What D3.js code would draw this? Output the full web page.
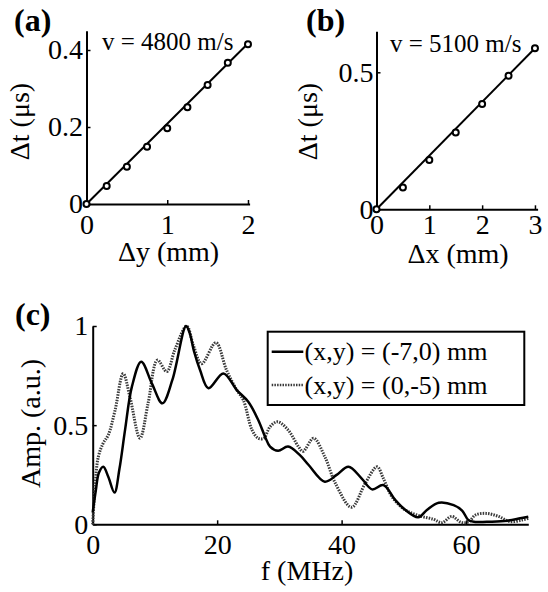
<!DOCTYPE html>
<html>
<head>
<meta charset="utf-8">
<script src="https://cdn.jsdelivr.net/npm/d3@7"></script>
<style>
  body { margin: 0; background: #fff; }
  svg, svg text { font-family: "Liberation Serif", Tinos, "Times New Roman", Times, "DejaVu Serif", serif !important; }
  .axis path, .axis line { stroke: #000; }
  .axis text { fill: #000; }
</style>
</head>
<body>
<div id="chart"></div>
<script>
// panel (a): delay vs dy
var dyA = [0, 0.25, 0.5, 0.75, 1, 1.25, 1.5, 1.75, 2];
var dtA = [0, 0.047, 0.097, 0.149, 0.197, 0.251, 0.309, 0.367, 0.415];
var fitA = [[0, 0], [2, 0.417]];

// panel (b): delay vs dx
var dxB = [0, 0.5, 1, 1.5, 2, 2.5, 3];
var dtB = [0, 0.08, 0.18, 0.28, 0.384, 0.487, 0.588];
var fitB = [[0, 0], [3, 0.588]];

// panel (c): spectra
var fSolid = [0, 0.5, 1.0, 1.7, 2.5, 3.5, 4.3, 5.2, 6.3, 7.8, 9.5, 11.2, 12.8, 15.0, 15.6, 16.3, 17.25, 18.6, 21.0, 23.15, 25.0, 26.6, 27.7, 28.5, 29.8, 31.4, 33.3, 34.7, 37.3, 39.2, 41.1, 43.2, 44.9, 46.7, 48.6, 50.2, 52.3, 53.7, 55.6, 58.0, 59.4, 60.4, 61.5, 63.9, 66.6, 68.7, 70];
var aSolid = [0.06, 0.17, 0.26, 0.29, 0.24, 0.16, 0.28, 0.476, 0.694, 0.82, 0.711, 0.61, 0.728, 1.0, 0.963, 0.87, 0.778, 0.686, 0.761, 0.677, 0.618, 0.526, 0.442, 0.392, 0.371, 0.392, 0.349, 0.299, 0.215, 0.249, 0.29, 0.232, 0.176, 0.198, 0.123, 0.073, 0.035, 0.072, 0.109, 0.097, 0.068, 0.02, 0.012, 0.013, 0.018, 0.03, 0.038];

var fDot = [0, 0.4, 0.9, 1.7, 2.5, 3.6, 4.9, 6.0, 7.6, 8.9, 10.4, 11.9, 13.2, 15.1, 16.2, 17.5, 19.8, 21.5, 23.15, 24.2, 25.6, 26.6, 27.5, 28.5, 29.7, 31.4, 33.1, 33.8, 35.5, 37.3, 39.0, 41.6, 43.8, 45.7, 46.7, 48.1, 50.2, 52.6, 54.8, 56.1, 57.7, 59.2, 60.4, 61.5, 63.2, 65.2, 67.1, 69.0, 70];
var aDot = [0.0, 0.2, 0.34, 0.41, 0.45, 0.576, 0.76, 0.64, 0.434, 0.61, 0.828, 0.77, 0.88, 1.0, 0.9, 0.81, 0.916, 0.778, 0.677, 0.627, 0.476, 0.434, 0.434, 0.492, 0.517, 0.476, 0.39, 0.368, 0.434, 0.341, 0.207, 0.086, 0.207, 0.29, 0.232, 0.139, 0.073, 0.042, 0.025, 0.008, 0.04, 0.01, 0.012, 0.047, 0.055, 0.04, 0.013, 0.022, 0.03];

var legendLabels = ["(x,y) = (-7,0) mm", "(x,y) = (0,-5) mm"];

var w = 548, h = 592;
var serif = '"Liberation Serif", Tinos, "Times New Roman", Times, "DejaVu Serif", serif';

var svg = d3.select("#chart")
            .append("svg")
            .attr("width", w)
            .attr("height", h)
            .attr("font-family", serif);

function styleAxis(g, fontSize) {
    g.attr("class", "axis").attr("font-family", serif);
    g.select(".domain").style("stroke-width", 2);
    g.selectAll(".tick line").style("stroke-width", 1.5);
    g.selectAll("text").style("font-size", fontSize + "px");
}

// small scatter + fit panel
function scatterPanel(opt) {
    var x = d3.scaleLinear().domain(opt.xDom).range(opt.xRange);
    var y = d3.scaleLinear().domain(opt.yDom).range(opt.yRange);

    var gx = svg.append("g")
        .attr("transform", "translate(0," + opt.yRange[0] + ")")
        .call(d3.axisBottom(x).tickValues(opt.xTicks).tickFormat(d3.format("d"))
            .tickSizeInner(-4).tickSizeOuter(0).tickPadding(opt.xPad));
    styleAxis(gx, 28);

    var gy = svg.append("g")
        .attr("transform", "translate(" + opt.xRange[0] + ",0)")
        .call(d3.axisLeft(y).tickValues(opt.yTicks).tickFormat(function (d) { return String(d); })
            .tickSizeInner(-4).tickSizeOuter(0).tickPadding(opt.yPad));
    styleAxis(gy, 28);

    svg.append("line")
        .attr("x1", x(opt.fit[0][0])).attr("y1", y(opt.fit[0][1]))
        .attr("x2", x(opt.fit[1][0])).attr("y2", y(opt.fit[1][1]))
        .style("stroke", "#000")
        .style("stroke-width", 2);

    svg.selectAll(null)
        .data(opt.xs)
        .enter()
        .append("circle")
        .attr("cx", function (d) { return x(d); })
        .attr("cy", function (d, i) { return y(opt.ys[i]); })
        .attr("r", 3)
        .style("fill", "#fff")
        .style("stroke", "#000")
        .style("stroke-width", 2);

    svg.append("text")
        .attr("x", opt.vPos[0]).attr("y", opt.vPos[1])
        .style("font-size", "25px")
        .text(opt.vText);

    // axis titles
    svg.append("text")
        .attr("x", opt.xTitle[0]).attr("y", opt.xTitle[1])
        .attr("text-anchor", "middle")
        .style("font-size", "28px")
        .text(opt.xLabel);

    svg.append("text")
        .attr("transform", "translate(" + opt.yTitle[0] + "," + opt.yTitle[1] + ") rotate(-90)")
        .attr("text-anchor", "middle")
        .style("font-size", "28px")
        .text("\u0394t (\u03bcs)");

    svg.append("text")
        .attr("x", opt.tag[0]).attr("y", opt.tag[1])
        .style("font-size", "32px")
        .style("font-weight", "bold")
        .text(opt.tagText);
}

scatterPanel({
    xDom: [0, 2.02], xRange: [86.5, 249.6],
    yDom: [0, 0.45], yRange: [204, 30.75],
    xTicks: [0, 1, 2], yTicks: [0, 0.2, 0.4],
    xPad: 10, yPad: 3.5,
    xs: dyA, ys: dtA, fit: fitA,
    vText: "v = 4800 m/s", vPos: [102, 49.5],
    xLabel: "\u0394y (mm)", xTitle: [168.5, 261],
    yTitle: [29, 121.5],
    tagText: "(a)", tag: [14, 31]
});

scatterPanel({
    xDom: [0, 3.05], xRange: [376.5, 537.6],
    yDom: [0, 0.65], yRange: [209.3, 31.2],
    xTicks: [0, 1, 2, 3], yTicks: [0, 0.5],
    xPad: 4.5, yPad: 3,
    xs: dxB, ys: dtB, fit: fitB,
    vText: "v = 5100 m/s", vPos: [390, 52],
    xLabel: "\u0394x (mm)", xTitle: [458, 263],
    yTitle: [317, 121.5],
    tagText: "(b)", tag: [306, 31]
});

// panel (c)
var xc = d3.scaleLinear().domain([0, 70]).range([92.7, 528.3]);
var yc = d3.scaleLinear().domain([0, 1]).range([524.3, 326]);

var gxc = svg.append("g")
    .attr("transform", "translate(0," + yc(0) + ")")
    .call(d3.axisBottom(xc).tickValues([0, 20, 40, 60]).tickFormat(d3.format("d"))
        .tickSizeInner(-4).tickSizeOuter(0).tickPadding(10));
styleAxis(gxc, 28);

var gyc = svg.append("g")
    .attr("transform", "translate(" + xc(0) + ",0)")
    .call(d3.axisLeft(yc).tickValues([0, 0.5, 1]).tickFormat(function (d) { return String(d); })
        .tickSizeInner(-4).tickSizeOuter(0).tickPadding(4.5));
styleAxis(gyc, 28);

var line = d3.line()
    .x(function (d) { return xc(d[0]); })
    .y(function (d) { return yc(d[1]); })
    .curve(d3.curveCatmullRom.alpha(0.5));

var dotData = fDot.map(function (f, i) { return [f, aDot[i]]; });
var solidData = fSolid.map(function (f, i) { return [f, aSolid[i]]; });

svg.append("path")
    .datum(dotData)
    .attr("d", line)
    .style("fill", "none")
    .style("stroke", "#3a3a3a")
    .style("stroke-width", 3)
    .style("stroke-dasharray", "1.5,1.2");

svg.append("path")
    .datum(solidData)
    .attr("d", line)
    .style("fill", "none")
    .style("stroke", "#000")
    .style("stroke-width", 2.5);

// legend
svg.append("rect")
    .attr("x", 267.7).attr("y", 331.7)
    .attr("width", 256.6).attr("height", 73.3)
    .style("fill", "#fff")
    .style("stroke", "#000")
    .style("stroke-width", 2);

var legendY = [351.7, 385];
svg.selectAll(null)
    .data(legendLabels)
    .enter()
    .append("line")
    .attr("x1", 271.7).attr("x2", 303.3)
    .attr("y1", function (d, i) { return legendY[i]; })
    .attr("y2", function (d, i) { return legendY[i]; })
    .style("stroke", function (d, i) { return i === 0 ? "#000" : "#3a3a3a"; })
    .style("stroke-width", 2.5)
    .style("stroke-dasharray", function (d, i) { return i === 0 ? null : "1.5,1.2"; });

svg.selectAll(null)
    .data(legendLabels)
    .enter()
    .append("text")
    .attr("x", 304.5)
    .attr("y", function (d, i) { return legendY[i]; })
    .attr("dy", "0.33em")
    .style("font-size", "26px")
    .text(function (d) { return d; });

svg.append("text")
    .attr("x", 307).attr("y", 580)
    .attr("text-anchor", "middle")
    .style("font-size", "28px")
    .text("f (MHz)");

svg.append("text")
    .attr("transform", "translate(40,423.5) rotate(-90)")
    .attr("text-anchor", "middle")
    .style("font-size", "28px")
    .text("Amp. (a.u.)");

svg.append("text")
    .attr("x", 15).attr("y", 325)
    .style("font-size", "32px")
    .style("font-weight", "bold")
    .text("(c)");
</script>
</body>
</html>
